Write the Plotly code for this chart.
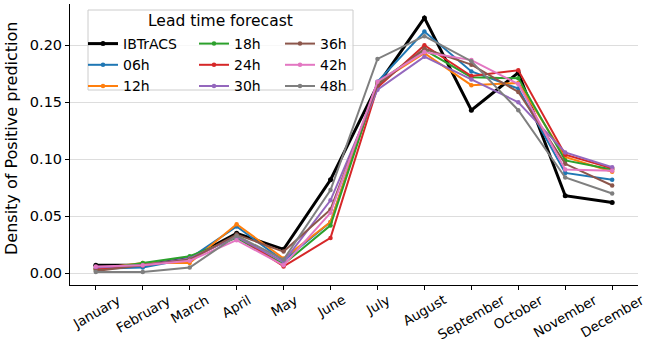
import plotly.graph_objects as go

months = ["January", "February", "March", "April", "May", "June", "July",
          "August", "September", "October", "November", "December"]

ibtracs = [0.007, 0.007, 0.013, 0.035, 0.021, 0.082, 0.165, 0.224, 0.143, 0.176, 0.068, 0.062]
h06 = [0.004, 0.005, 0.013, 0.041, 0.011, 0.045, 0.168, 0.212, 0.177, 0.162, 0.088, 0.082]
h12 = [0.004, 0.009, 0.009, 0.043, 0.013, 0.045, 0.167, 0.193, 0.165, 0.167, 0.102, 0.089]
h18 = [0.003, 0.009, 0.015, 0.031, 0.008, 0.042, 0.167, 0.196, 0.172, 0.171, 0.099, 0.091]
h24 = [0.004, 0.007, 0.012, 0.033, 0.006, 0.031, 0.163, 0.200, 0.173, 0.178, 0.104, 0.092]
h30 = [0.005, 0.007, 0.013, 0.032, 0.010, 0.064, 0.161, 0.190, 0.170, 0.150, 0.106, 0.093]
h36 = [0.002, 0.007, 0.012, 0.034, 0.019, 0.056, 0.165, 0.197, 0.183, 0.159, 0.096, 0.077]
h42 = [0.006, 0.007, 0.011, 0.029, 0.007, 0.053, 0.168, 0.194, 0.187, 0.166, 0.091, 0.090]
h48 = [0.001, 0.001, 0.005, 0.033, 0.012, 0.073, 0.188, 0.208, 0.186, 0.143, 0.084, 0.070]

series = [
    ("IBTrACS", ibtracs, "black", 3.0, "legend"),
    ("06h", h06, "#1f77b4", 2.0, "legend"),
    ("12h", h12, "#ff7f0e", 2.0, "legend"),
    ("18h", h18, "#2ca02c", 2.0, "legend2"),
    ("24h", h24, "#d62728", 2.0, "legend2"),
    ("30h", h30, "#9467bd", 2.0, "legend2"),
    ("36h", h36, "#8c564b", 2.0, "legend3"),
    ("42h", h42, "#e377c2", 2.0, "legend3"),
    ("48h", h48, "#7f7f7f", 2.0, "legend3"),
]

fig = go.Figure()
for name, vals, color, w, lg in series:
    fig.add_trace(go.Scatter(
        x=months, y=vals, name=name, mode="lines+markers",
        line=dict(color=color, width=w),
        marker=dict(color=color, size=5 if name == "IBTrACS" else 4.5),
        legend=lg,
    ))

font_family = "DejaVu Sans"
L, R, T, B = 70, 10, 4, 54
PW = 648 - L - R
PH = 339 - T - B


def px_x(px):
    return (px - L) / PW


def px_y(py):
    return (339 - B - py) / PH


leg_common = dict(
    bgcolor="rgba(0,0,0,0)", borderwidth=0,
    font=dict(family=font_family, size=14, color="black"),
    xanchor="left", yanchor="top", tracegroupgap=0, itemwidth=30,
    orientation="v",
)

annotations = [
    dict(
        text="Lead time forecast", xref="paper", yref="paper",
        x=px_x(220), y=px_y(21), xanchor="center", yanchor="middle",
        showarrow=False, font=dict(family=font_family, size=15.5, color="black"),
    ),
    dict(
        text="Density of Positive prediction", xref="paper", yref="paper",
        x=px_x(11), y=px_y(139), xanchor="center", yanchor="middle",
        textangle=-90, showarrow=False,
        font=dict(family=font_family, size=16, color="black"),
    ),
]
# x tick labels centred under their ticks (rotated 30 degrees)
for m in months:
    annotations.append(dict(
        text=m, xref="x", yref="paper", x=m, y=px_y(289),
        xanchor="center", yanchor="top", textangle=-30, showarrow=False,
        font=dict(family=font_family, size=13.5, color="black"),
    ))

fig.update_layout(
    width=648, height=339,
    margin=dict(l=L, r=R, t=T, b=B),
    paper_bgcolor="white", plot_bgcolor="white",
    font=dict(family=font_family, size=14, color="black"),
    showlegend=True,
    legend=dict(x=px_x(83), y=px_y(28), **leg_common),
    legend2=dict(x=px_x(194), y=px_y(28), **leg_common),
    legend3=dict(x=px_x(280), y=px_y(28), **leg_common),
    xaxis=dict(
        type="category", range=[-0.55, 11.55], automargin=False,
        showline=True, linecolor="black", linewidth=1,
        ticks="outside", ticklen=4, tickcolor="black",
        showticklabels=False,
        showgrid=False, zeroline=False,
    ),
    yaxis=dict(
        range=[-0.0103, 0.2362], automargin=False,
        tickvals=[0.0, 0.05, 0.10, 0.15, 0.20],
        ticktext=["0.00", "0.05", "0.10", "0.15", "0.20"],
        showline=True, linecolor="black", linewidth=1,
        ticks="outside", ticklen=4, tickcolor="black",
        tickfont=dict(size=14.5),
        showgrid=True, gridcolor="#dddddd", gridwidth=1,
        zeroline=False,
    ),
    shapes=[dict(
        type="rect", xref="paper", yref="paper",
        x0=px_x(88), x1=px_x(353), y0=px_y(90), y1=px_y(10),
        line=dict(color="#cccccc", width=1), fillcolor="rgba(255,255,255,0.8)",
        layer="above",
    )],
    annotations=annotations,
)

fig.write_html(
    "out.html",
    config={"displayModeBar": False},
    post_script="document.body.style.margin='0';document.body.style.overflow='hidden';",
)
